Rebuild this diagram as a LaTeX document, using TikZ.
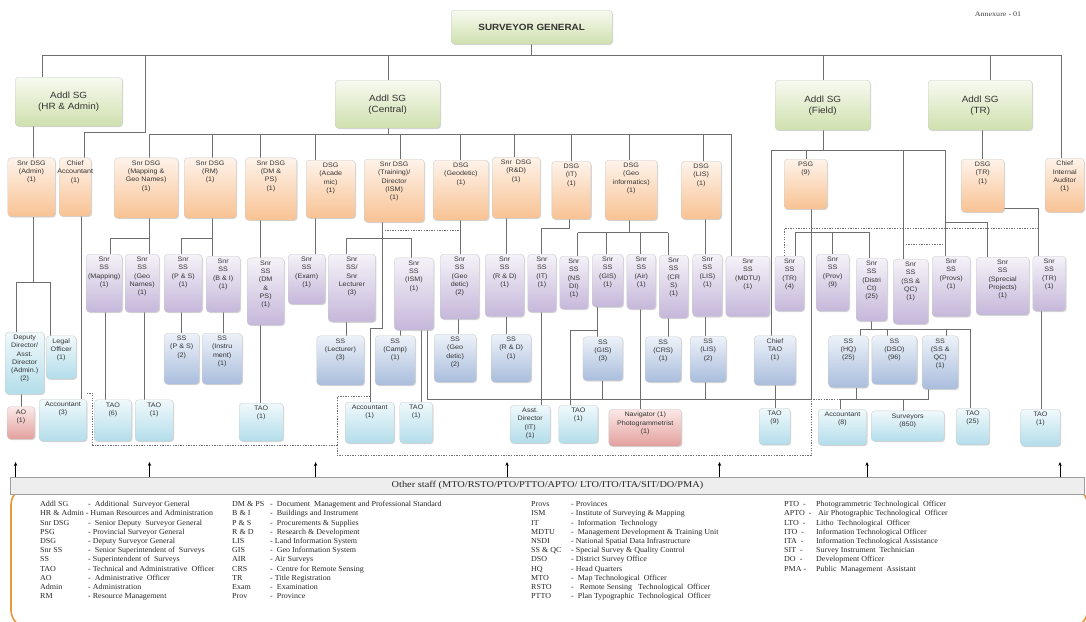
\documentclass[tikz,border=0pt]{standalone}
\usepackage{fontspec}
\setmainfont{Liberation Serif}[FakeStretch=1.15]
\setsansfont{Liberation Sans}[FakeStretch=1.1]
\newfontfamily\legfont{Liberation Serif}[FakeStretch=1.04]
\usetikzlibrary{shadows,arrows.meta}
\pgfdeclarelayer{bg}
\pgfsetlayers{bg,main}

\definecolor{lnC}{HTML}{6E6E6E}
\definecolor{grT}{HTML}{F7FAF0}\definecolor{grB}{HTML}{CFE0AE}
\definecolor{orT}{HTML}{FEF3EA}\definecolor{orB}{HTML}{F8C293}
\definecolor{lvT}{HTML}{F5F2F8}\definecolor{lvB}{HTML}{C5B7DA}
\definecolor{blT}{HTML}{EDF2F9}\definecolor{blB}{HTML}{A9BDDC}
\definecolor{cyT}{HTML}{F0F9FC}\definecolor{cyB}{HTML}{B3DDEA}
\definecolor{pkT}{HTML}{FBE9E8}\definecolor{pkB}{HTML}{E3A09E}
\definecolor{txt}{HTML}{333333}
\definecolor{legor}{HTML}{E9953C}

% box with its caption near the top: style, name, x1, y1, x2, y2, caption
\newcommand\bx[7]{%
  \node[#1, anchor=north west, inner sep=0pt,
        minimum width={(#5-#3)*1pt}, minimum height={(#6-#4)*1pt}] (#2) at (#3,-#4) {};
  \node[btxt, anchor=north] (#2-t) at ([yshift=-3pt]#2.north) {#7};}
% top-level box with centred caption
\newcommand\hb[7]{%
  \node[#1, anchor=north west, inner sep=0pt,
        minimum width={(#5-#3)*1pt}, minimum height={(#6-#4)*1pt}] (#2) at (#3,-#4) {};
  \node[htxt] (#2-t) at (#2.center) {#7};}

\tikzset{
  box/.style={rounded corners=3.5pt, draw=white!60!gray, line width=0.35pt,
    drop shadow={shadow xshift=0.9pt, shadow yshift=-0.9pt, opacity=0.3}},
  head/.style={box, top color=grT, bottom color=grB},
  dsg/.style={box, top color=orT, bottom color=orB},
  snr/.style={box, top color=lvT, bottom color=lvB},
  ssb/.style={box, top color=blT, bottom color=blB},
  staff/.style={box, top color=cyT, bottom color=cyB},
  alert/.style={box, top color=pkT, bottom color=pkB},
  btxt/.style={font=\sffamily\fontsize{6.5}{8.2}\selectfont, text=txt, align=center, inner sep=0pt},
  htxt/.style={font=\sffamily\fontsize{9}{11}\selectfont, text=txt, align=center, inner sep=0pt},
  ln/.style={draw=lnC, line width=0.8pt},
  dotln/.style={draw=lnC, line width=0.8pt, dash pattern=on 1.3pt off 1.3pt},
  uparrow/.style={draw=black, line width=0.8pt, -{Stealth[length=4pt,width=3.4pt]}},
  legtxt/.style={font=\legfont\fontsize{7.7}{9.2}\selectfont, text=black!85, inner sep=0pt, anchor=north west},
}

\begin{document}
\begin{tikzpicture}[x=1pt,y=1pt]
\begin{pgfonlayer}{bg}
  \fill[white] (0,0) rectangle (1086,-621);
\end{pgfonlayer}
\useasboundingbox (0,0) rectangle (1086,-621);

% ---------------- top level ----------------
\hb{head}{sg}{451}{10}{612}{44}{\textbf{SURVEYOR GENERAL}}
\hb{head}{hr}{15}{77}{122}{126}{Addl SG\\(HR \& Admin)}
\hb{head}{cen}{335}{80}{440}{128}{Addl SG\\(Central)}
\hb{head}{fld}{775}{80}{870}{130}{Addl SG\\(Field)}
\hb{head}{tr}{928}{80}{1032}{130}{Addl SG\\(TR)}
\node[font=\fontsize{7}{8}\selectfont, text=black!75] (annex) at (998,-14) {Annexure - 01};

% ---------------- deputy level ----------------
\bx{dsg}{dadm}{7.6}{157.7}{55}{216.5}{Snr DSG\\(Admin)\\(1)}
\bx{dsg}{cacc}{59}{157.7}{91}{216}{Chief\\Accountant\\(1)}
\bx{dsg}{dmap}{114}{157.7}{178}{218}{Snr DSG\\(Mapping \&\\Geo Names)\\(1)}
\bx{dsg}{drm}{184}{157.7}{236}{218}{Snr DSG\\(RM)\\(1)}
\bx{dsg}{ddm}{245}{157.7}{296.5}{220}{Snr DSG\\(DM \&\\PS)\\(1)}
\bx{dsg}{daca}{306}{160}{355}{218}{DSG\\(Acade\\mic)\\(1)}
\bx{dsg}{dtrn}{364}{159}{424}{222}{Snr DSG\\(Training)/\\Director\\(ISM)\\(1)}
\bx{dsg}{dgeo}{433}{160}{488.5}{220}{DSG\\(Geodetic)\\(1)}
\bx{dsg}{drd}{492}{157}{540}{218}{Snr\ \ DSG\\(R\&D)\\(1)}
\bx{dsg}{dit}{551.7}{161}{590.7}{219}{DSG\\(IT)\\(1)}
\bx{dsg}{dgi}{605}{160}{657}{220}{DSG\\(Geo\\informatics)\\(1)}
\bx{dsg}{dlis}{681}{161}{721}{219}{DSG\\(LIS)\\(1)}
\bx{dsg}{psg}{784}{159}{827}{209}{PSG\\(9)}
\bx{dsg}{dtr}{961}{159}{1004}{212}{DSG\\(TR)\\(1)}
\bx{dsg}{cia}{1045}{158}{1084}{212}{Chief\\Internal\\Auditor\\(1)}

% ---------------- senior superintendents ----------------
\bx{snr}{smap}{86}{254}{122}{312}{Snr\\SS\\(Mapping)\\(1)}
\bx{snr}{sgeo}{125}{254}{159}{312}{Snr\\SS\\(Geo\\Names)\\(1)}
\bx{snr}{sps}{164}{254}{202}{312}{Snr\\SS\\(P \& S)\\(1)}
\bx{snr}{sbi}{206}{256}{240}{312}{Snr\\SS\\(B \& I)\\(1)}
\bx{snr}{sdm}{247}{257.7}{284}{325}{Snr\\SS\\(DM\\\&\\PS)\\(1)}
\bx{snr}{sexam}{288}{254}{325}{304}{Snr\\SS\\(Exam)\\(1)}
\bx{snr}{slec}{328}{254}{375.4}{321.7}{Snr\\SS/\\Snr\\Lecturer\\(3)}
\bx{snr}{sism}{394}{257.7}{433.5}{330}{Snr\\SS\\(ISM)\\(1)}
\bx{snr}{sgd}{440}{254}{479}{319}{Snr\\SS\\(Geo\\detic)\\(2)}
\bx{snr}{srd}{485}{254}{524}{316.5}{Snr\\SS\\(R \& D)\\(1)}
\bx{snr}{sit}{527.6}{254}{556}{312}{Snr\\SS\\(IT)\\(1)}
\bx{snr}{snsdi}{559.6}{256}{588}{309}{Snr\\SS\\(NS\\DI)\\(1)}
\bx{snr}{sgis}{592}{254}{623}{306.8}{Snr\\SS\\(GIS)\\(1)}
\bx{snr}{sair}{626.7}{254}{655.5}{309}{Snr\\SS\\(Air)\\(1)}
\bx{snr}{scrs}{659}{255}{688}{318}{Snr\\SS\\(CR\\S)\\(1)}
\bx{snr}{slis}{692.5}{254}{722}{316.5}{Snr\\SS\\(LIS)\\(1)}
\bx{snr}{smdtu}{725.7}{256}{769.6}{316.5}{Snr\\SS\\(MDTU)\\(1)}
\bx{snr}{str4}{774.8}{256}{804}{311}{Snr\\SS\\(TR)\\(4)}
\bx{snr}{sprov}{816}{254}{849}{311}{Snr\\SS\\(Prov)\\(9)}
\bx{snr}{sdist}{856}{258}{887}{321}{Snr\\SS\\(Distri\\Ct)\\(25)}
\bx{snr}{ssqc}{893}{259}{928}{324}{Snr\\SS\\(SS \&\\QC)\\(1)}
\bx{snr}{sprovs}{932}{256}{970}{316.5}{Snr\\SS\\(Provs)\\(1)}
\bx{snr}{sspec}{976}{257}{1029}{314.8}{Snr\\SS\\(Sprecial\\Projects)\\(1)}
\bx{snr}{str1}{1032.6}{256}{1065.5}{311}{Snr\\SS\\(TR)\\(1)}

% ---------------- superintendents ----------------
\bx{ssb}{ssps}{164}{333}{199}{384}{SS\\(P \& S)\\(2)}
\bx{ssb}{ssins}{202}{333}{242}{384}{SS\\(Instru\\ment)\\(1)}
\bx{ssb}{sslec}{316.6}{335.6}{364}{385}{SS\\(Lecturer)\\(3)}
\bx{ssb}{sscamp}{375}{335.6}{415}{385}{SS\\(Camp)\\(1)}
\bx{ssb}{ssgd}{434}{334}{476}{382}{SS\\(Geo\\detic)\\(2)}
\bx{ssb}{ssrd}{491}{334}{531}{382}{SS\\(R \& D)\\(1)}
\bx{ssb}{ssgis}{582.8}{336.6}{622.6}{380.5}{SS\\(GIS)\\(3)}
\bx{ssb}{sscrs}{645}{336.6}{681}{382}{SS\\(CRS)\\(1)}
\bx{ssb}{sslis}{690}{336}{726}{382}{SS\\(LIS)\\(2)}
\bx{ssb}{ctao}{754}{335.6}{795.6}{385}{Chief\\TAO\\(1)}
\bx{ssb}{sshq}{828.5}{335.6}{868}{387.5}{SS\\(HQ)\\(25)}
\bx{ssb}{ssdso}{871.7}{335.6}{916.7}{384}{SS\\(DSO)\\(96)}
\bx{ssb}{ssqc2}{922}{335.6}{958}{389}{SS\\(SS \&\\QC)\\(1)}

% ---------------- staff ----------------
\bx{staff}{dep}{5}{332}{44}{394}{Deputy\\Director/\\Asst.\\Director\\(Admin.)\\(2)}
\bx{staff}{legal}{46}{335.6}{76}{378.8}{Legal\\Officer\\(1)}
\bx{alert}{ao}{7}{406.5}{34.6}{439}{AO\\(1)}
\bx{staff}{acc3}{39}{399}{86.5}{441}{Accountant\\(3)}
\bx{staff}{tao6}{94}{399.6}{131.5}{441}{TAO\\(6)}
\bx{staff}{taoa}{135}{399.6}{173}{441}{TAO\\(1)}
\bx{staff}{taob}{239}{403}{283}{441}{TAO\\(1)}
\bx{staff}{acc1}{345}{402}{394}{443}{Accountant\\(1)}
\bx{staff}{taoc}{399.6}{402}{432.5}{443}{TAO\\(1)}
\bx{staff}{asst}{510}{405}{550}{443}{Asst.\\Director\\(IT)\\(1)}
\bx{staff}{taod}{558.6}{405}{597.7}{443}{TAO\\(1)}
\bx{alert}{nav}{608.7}{409}{681.4}{446}{Navigator (1)\\Photogrammetrist\\(1)}
\bx{staff}{tao9}{759}{408}{790}{444.6}{TAO\\(9)}
\bx{staff}{acc8}{818}{409}{866.5}{445}{Accountant\\(8)}
\bx{staff}{surv}{871}{410.7}{944}{441}{Surveyors\\(850)}
\bx{staff}{tao25}{956}{408}{989}{444.6}{TAO\\(25)}
\bx{staff}{taoe}{1020.5}{409}{1060}{446}{TAO\\(1)}

% ---------------- other staff bar ----------------
\node[draw=gray!75, fill=gray!13, line width=0.5pt, anchor=north west, inner sep=0pt,
      minimum width=1073.6pt, minimum height=16.2pt] (other) at (10.4,-477.4) {};
\node[font=\fontsize{9}{10}\selectfont, text=black!85] (other-t) at (other.center)
  {Other staff (MTO/RSTO/PTO/PTTO/APTO/ LTO/ITO/ITA/SIT/DO/PMA)};

% ---------------- connectors ----------------
\begin{pgfonlayer}{bg}
  % surveyor general to the additional SGs
  \draw[ln] (sg.south) -- (sg.south |- 0,-55);
  \draw[ln] (hr.north -| 42,0) -- (42,-55) -- (1061,-55) -- (cia.north -| 1061,0);
  \draw[ln] (145,-55) -- (145,-132) -- (84,-132) -- (cacc.north -| 84,0);
  \draw[ln] (cen.north -| 388,0) -- (388,-55);
  \draw[ln] (fld.north -| 823,0) -- (823,-55);
  \draw[ln] (tr.north -| 990,0) -- (990,-55);

  % HR & Admin
  \draw[ln] (hr.south -| 33.6,0) -- (dadm.north -| 33.6,0);
  \draw[ln] (dadm.south -| 33.6,0) -- (33.6,-282);
  \draw[ln] (dep.north -| 16,0) -- (16,-282) -- (50,-282) -- (legal.north -| 50,0);
  \draw[ln] (dep.south -| 21.5,0) -- (ao.north -| 21.5,0);
  \draw[ln] (cacc.south -| 81,0) -- (acc3.north -| 81,0);

  % central bus
  \draw[ln] (cen.south -| 388,0) -- (388,-134);
  \draw[ln] (149.5,-134) -- (731.6,-134) -- (smdtu.north -| 731.6,0);
  \foreach \x/\n in {149.5/dmap, 212.5/drm, 260/ddm, 315/daca, 400.7/dtrn,
                     460/dgeo, 514/drd, 571.7/dit, 629/dgi, 703/dlis}
    \draw[ln] (\x,-134) -- (\n.north -| \x,0);

  % mapping, RM, DM&PS, academic
  \draw[ln] (dmap.south -| 149.5,0) -- (149.5,-238.6) -- (110,-238.6) -- (smap.north -| 110,0);
  \draw[ln] (149.5,-238.6) -- (sgeo.north -| 149.5,0);
  \draw[ln] (drm.south -| 212.5,0) -- (212.5,-238.6) -- (181.6,-238.6) -- (sps.north -| 181.6,0);
  \draw[ln] (212.5,-238.6) -- (sbi.north -| 212.5,0);
  \draw[ln] (ddm.south -| 260,0) -- (sdm.north -| 260,0);
  \draw[ln] (sdm.south -| 260,0) -- (taob.north -| 260,0);
  \draw[ln] (daca.south -| 315,0) -- (sexam.north -| 315,0);
  \draw[ln] (smap.south -| 105.5,0) -- (tao6.north -| 105.5,0);
  \draw[ln] (sgeo.south -| 144.6,0) -- (taoa.north -| 144.6,0);
  \draw[ln] (sps.south -| 181.6,0) -- (ssps.north -| 181.6,0);
  \draw[ln] (sbi.south -| 223,0) -- (ssins.north -| 223,0);

  % training / ISM
  \draw[ln] (dtrn.south -| 382,0) -- (382,-238.6);
  \draw[ln] (slec.north -| 346,0) -- (346,-238.6) -- (411.7,-238.6) -- (sism.north -| 411.7,0);
  \draw[ln] (382,-238.6) -- (382,-328.6) -- (370,-328.6) -- (acc1.north -| 370,0);
  \draw[ln] (slec.south -| 346,0) -- (sslec.north -| 346,0);
  \draw[ln] (sism.south -| 400.7,0) -- (sscamp.north -| 400.7,0);
  \draw[ln] (sism.south -| 421,0) -- (taoc.north -| 421,0);
  \draw[ln] (sism.south -| 427,0) -- (427,-399) -- (811,-399);

  % geodetic, R&D, IT
  \draw[ln] (dgeo.south -| 460,0) -- (sgd.north -| 460,0);
  \draw[ln] (sgd.south -| 458.5,0) -- (ssgd.north -| 458.5,0);
  \draw[ln] (drd.south -| 506,0) -- (srd.north -| 506,0);
  \draw[ln] (srd.south -| 506,0) -- (ssrd.north -| 506,0);
  \draw[ln] (dit.south -| 569,0) -- (569,-228.6) -- (541,-228.6) -- (sit.north -| 541,0);
  \draw[ln] (sit.south -| 541,0) -- (asst.north -| 541,0);

  % geo informatics
  \draw[ln] (dgi.south -| 629,0) -- (629,-232.8);
  \draw[ln] (577.6,-232.8) -- (668,-232.8);
  \foreach \x/\n in {577.6/snsdi, 606/sgis, 640/sair, 668/scrs}
    \draw[ln] (\x,-232.8) -- (\n.north -| \x,0);
  \draw[ln] (sgis.south -| 597.7,0) -- (ssgis.north -| 597.7,0);
  \draw[ln] (597.7,-330) -- (570.7,-330) -- (taod.north -| 570.7,0);
  \draw[ln] (ssgis.south -| 602,0) -- (602,-399);
  \draw[ln] (sair.south -| 640,0) -- (nav.north -| 640,0);
  \draw[ln] (scrs.south -| 668,0) -- (sscrs.north -| 668,0);

  % LIS
  \draw[ln] (dlis.south -| 705,0) -- (slis.north -| 705,0);
  \draw[ln] (slis.south -| 705,0) -- (sslis.north -| 705,0);
  \draw[ln] (sslis.south -| 705,0) -- (705,-399);

  % field
  \draw[ln] (fld.south -| 823,0) -- (823,-150);
  \draw[ln] (ctao.north -| 771,0) -- (771,-150) -- (945,-150) -- (sprovs.north -| 945,0);
  \draw[ln] (806,-150) -- (psg.north -| 806,0);
  \draw[ln] (903,-150) -- (ssqc.north -| 903,0);
  \draw[ln] (945,-222.7) -- (987.6,-222.7) -- (sspec.north -| 987.6,0);
  \draw[ln] (psg.south -| 811,0) -- (811,-399);
  \draw[ln] (str4.north -| 795,0) -- (795,-232.8) -- (869,-232.8) -- (sdist.north -| 869,0);
  \draw[ln] (832,-232.8) -- (sprov.north -| 832,0);
  \draw[ln] (ctao.south -| 775,0) -- (tao9.north -| 775,0);

  % district survey offices
  \draw[ln] (sdist.south -| 871.7,0) -- (871.7,-329);
  \draw[ln] (sshq.north -| 860.6,0) -- (860.6,-329) -- (970,-329) -- (tao25.north -| 970,0);
  \draw[ln] (887,-329) -- (ssdso.north -| 887,0);
  \draw[ln] (946,-329) -- (ssqc2.north -| 946,0);
  \draw[ln] (sshq.south -| 856,0) -- (856,-399);
  \draw[ln] (ssqc2.south -| 928,0) -- (928,-399) -- (840.6,-399) -- (acc8.north -| 840.6,0);
  \draw[ln] (903,-399) -- (surv.north -| 903,0);

  % title registration
  \draw[ln] (tr.south -| 982,0) -- (dtr.north -| 982,0);
  \draw[ln] (dtr.east |- 0,-208) -- (1038,-208) -- (str1.north -| 1038,0);
  \draw[ln] (str1.south -| 1041,0) -- (taoe.north -| 1041,0);

  % dotted links
  \draw[dotln] (382,-230) -- (460,-230);
  \draw[dotln] (str4.north -| 784,0) -- (784,-228.6) -- (1038,-228.6);
  \draw[dotln] (903,-244) -- (945,-244);
  \draw[dotln] (acc3.north east |- 0,-393) -- (92.7,-393) -- (92.7,-445) -- (337,-445)
               -- (337,-396.8) -- (370,-396.8);
  \draw[dotln] (337,-445) -- (337,-455.6) -- (811,-455.6) -- (811,-399) -- (840.6,-399);

  % legend frame (runs off the page on the right and at the bottom)
  \draw[legor, line width=1.6pt, rounded corners=18pt] (11,-487) rectangle (1087.5,-628);
\end{pgfonlayer}

% arrows into the other-staff bar
\foreach \x in {15.6, 149.5, 315.6, 507, 719.5, 867, 1060}
  \draw[uparrow] (other.north -| \x,0) -- (\x,-462);

% ---------------- legend ----------------
\node[legtxt] (leg1) at (40,-500) {\begin{tabular}{@{}p{48pt}@{}l@{}}
Addl SG & -\ \ Additional\ \ Surveyor General\\
\multicolumn{2}{@{}l@{}}{HR \& Admin - Human Resources and Administration}\\
Snr DSG & -\ \ Senior Deputy\ \ Surveyor General\\
PSG & - Provincial Surveyor General\\
DSG & - Deputy Surveyor General\\
Snr SS & -\ \ Senior Superintendent of\ \ Surveys\\
SS & - Superintendent of\ \ Surveys\\
TAO & - Technical and Administrative\ \ Officer\\
AO & -\ \ Administrative\ \ Officer\\
Admin & - Administration\\
RM & - Resource Management
\end{tabular}};
\node[legtxt] (leg2) at (232,-500) {\begin{tabular}{@{}p{38pt}@{}l@{}}
DM \& PS & -\ \ Document\ \ Management and Professional Standard\\
B \& I & -\ \ Buildings and Instrument\\
P \& S & -\ \ Procurements \& Supplies\\
R \& D & -\ \ Research \& Development\\
LIS & - Land Information System\\
GIS & -\ \ Geo Information System\\
AIR & - Air Surveys\\
CRS & -\ \ Centre for Remote Sensing\\
TR & - Title Registration\\
Exam & -\ \ Examination\\
Prov & -\ \ Province
\end{tabular}};
\node[legtxt] (leg3) at (531,-500) {\begin{tabular}{@{}p{40pt}@{}l@{}}
Provs & - Provinces\\
ISM & - Institute of Surveying \& Mapping\\
IT & -\ \ Information\ \ Technology\\
MDTU & -\ \ Management Development \& Training Unit\\
NSDI & - National Spatial Data Infrastructure\\
SS \& QC & - Special Survey \& Quality Control\\
DSO & - District Survey Office\\
HQ & - Head Quarters\\
MTO & -\ \ Map Technological\ \ Officer\\
RSTO & -\ \ \ Remote Sensing\ \ \ Technological\ \ Officer\\
PTTO & -\ \ Plan Typographic\ \ Technological\ \ Officer
\end{tabular}};
\node[legtxt] (leg4) at (784,-500) {\begin{tabular}{@{}p{32pt}@{}l@{}}
PTO\ \ - & Photogrammetric Technological\ \ Officer\\
APTO\ \ - & \ Air Photographic Technological\ \ Officer\\
LTO\ \ - & Litho\ \ Technological\ \ Officer\\
ITO\ \ - & Information Technological Officer\\
ITA\ \ - & Information Technological Assistance\\
SIT\ \ - & Survey Instrument\ \ Technician\\
DO\ \ - & Development Officer\\
PMA\ - & Public\ \ Management\ \ Assistant
\end{tabular}};
\end{tikzpicture}
\end{document}
